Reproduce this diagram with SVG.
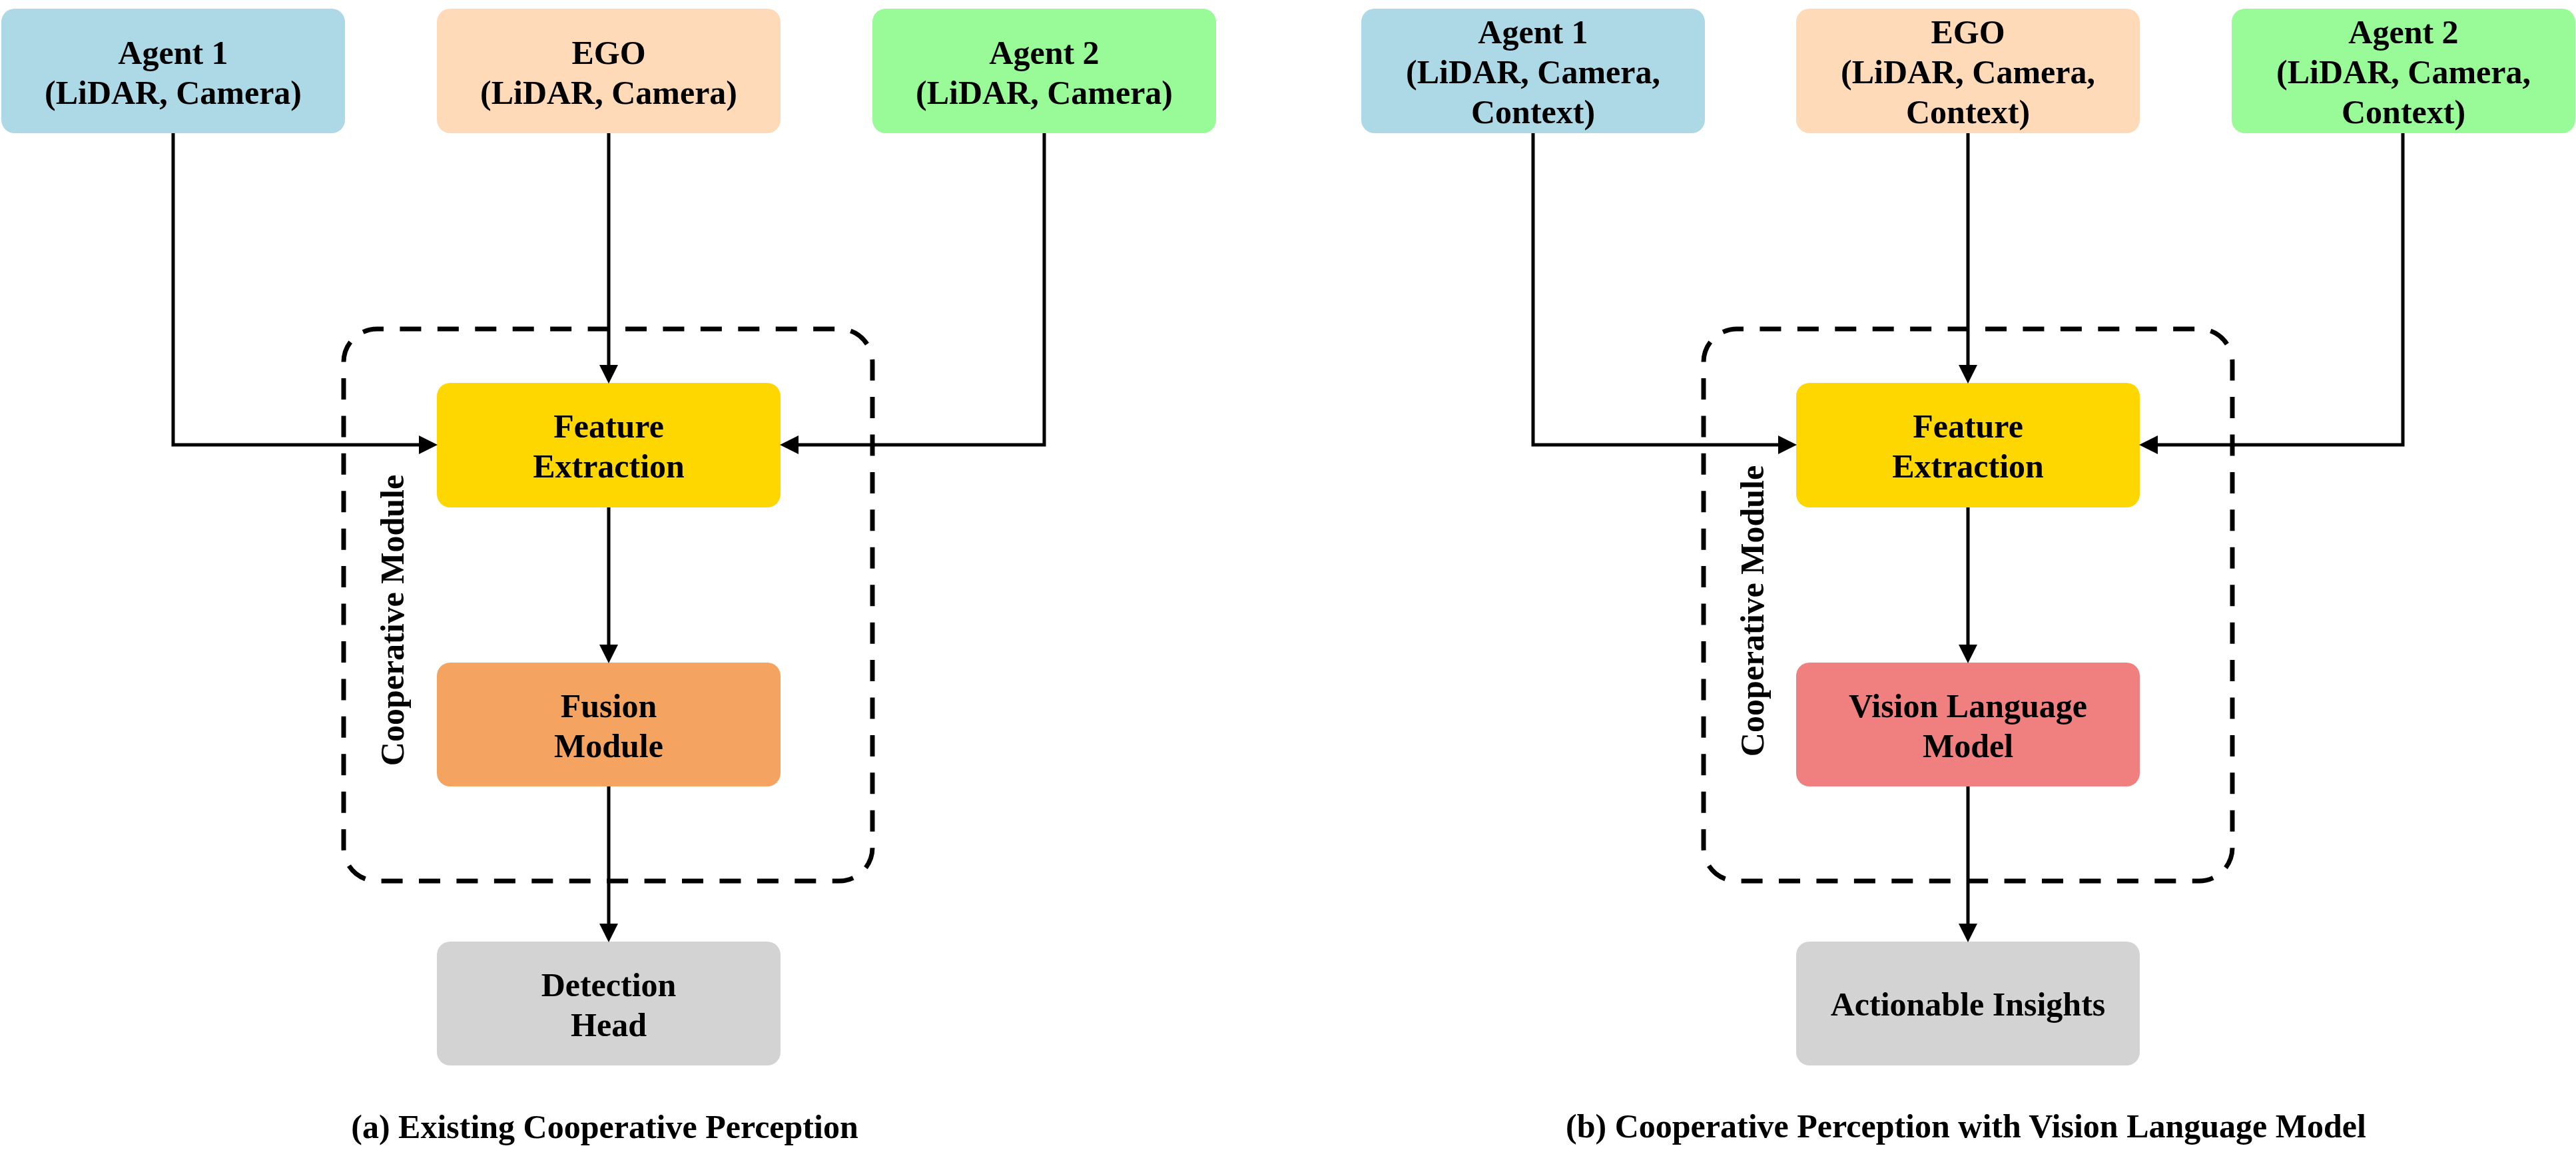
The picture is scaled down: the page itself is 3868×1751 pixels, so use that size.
<svg xmlns="http://www.w3.org/2000/svg" width="3868" height="1751" viewBox="0 0 3868 1751">
<style>
  .lbl { font-family: "Liberation Serif", "Times New Roman", serif; font-weight: bold; font-size: 50px; fill: #000; text-anchor: middle; }
  .box { stroke: none; }
  .conn { fill: none; stroke: #000; stroke-width: 5; }
  .group { fill: none; stroke: #000; stroke-width: 7; stroke-dasharray: 32 24.431; stroke-dashoffset: 22; }
</style>
<defs>
  <marker id="arrow" markerUnits="userSpaceOnUse" markerWidth="28" markerHeight="28" viewBox="0 0 27 27" refX="0" refY="13.5" orient="auto">
    <path d="M0,0 L27,13.5 L0,27 z" fill="#000"/>
  </marker>
</defs>
<rect width="3868" height="1751" fill="#fff"/>

<!-- Panel (a) -->
<g id="a-coop-module">
  <rect class="group" x="516" y="494" width="794" height="829" rx="50" ry="50"/>
  <text class="lbl" transform="translate(606,931.5) rotate(-90)" x="0" y="0">Cooperative Module</text>
</g>
<g id="a-agent1">
  <rect class="box" x="2" y="13" width="516" height="187" rx="20" fill="#ADD8E6"/>
  <text class="lbl" x="260" y="96">Agent 1</text>
  <text class="lbl" x="260" y="156">(LiDAR, Camera)</text>
</g>
<g id="a-ego">
  <rect class="box" x="656" y="13" width="516" height="187" rx="20" fill="#FFDAB9"/>
  <text class="lbl" x="914" y="96">EGO</text>
  <text class="lbl" x="914" y="156">(LiDAR, Camera)</text>
</g>
<g id="a-agent2">
  <rect class="box" x="1310" y="13" width="516" height="187" rx="20" fill="#98FB98"/>
  <text class="lbl" x="1568" y="96">Agent 2</text>
  <text class="lbl" x="1568" y="156">(LiDAR, Camera)</text>
</g>
<g id="a-feature">
  <rect class="box" x="656" y="575" width="516" height="187" rx="20" fill="#FFD700"/>
  <text class="lbl" x="914" y="657">Feature</text>
  <text class="lbl" x="914" y="717">Extraction</text>
</g>
<g id="a-fusion">
  <rect class="box" x="656" y="995" width="516" height="186" rx="20" fill="#F4A460"/>
  <text class="lbl" x="914" y="1077">Fusion</text>
  <text class="lbl" x="914" y="1137">Module</text>
</g>
<g id="a-detection">
  <rect class="box" x="656" y="1414" width="516" height="186" rx="20" fill="#D3D3D3"/>
  <text class="lbl" x="914" y="1496">Detection</text>
  <text class="lbl" x="914" y="1556">Head</text>
</g>
<text id="a-caption" class="lbl" x="908" y="1709">(a) Existing Cooperative Perception</text>

<!-- Panel (b) -->
<g id="b-coop-module">
  <rect class="group" x="2558" y="494" width="794" height="829" rx="50" ry="50"/>
  <text class="lbl" transform="translate(2648,917.5) rotate(-90)" x="0" y="0">Cooperative Module</text>
</g>
<g id="b-agent1">
  <rect class="box" x="2044" y="13" width="516" height="187" rx="20" fill="#ADD8E6"/>
  <text class="lbl" x="2302" y="65">Agent 1</text>
  <text class="lbl" x="2302" y="125">(LiDAR, Camera,</text>
  <text class="lbl" x="2302" y="185">Context)</text>
</g>
<g id="b-ego">
  <rect class="box" x="2697" y="13" width="516" height="187" rx="20" fill="#FFDAB9"/>
  <text class="lbl" x="2955" y="65">EGO</text>
  <text class="lbl" x="2955" y="125">(LiDAR, Camera,</text>
  <text class="lbl" x="2955" y="185">Context)</text>
</g>
<g id="b-agent2">
  <rect class="box" x="3351" y="13" width="516" height="187" rx="20" fill="#98FB98"/>
  <text class="lbl" x="3609" y="65">Agent 2</text>
  <text class="lbl" x="3609" y="125">(LiDAR, Camera,</text>
  <text class="lbl" x="3609" y="185">Context)</text>
</g>
<g id="b-feature">
  <rect class="box" x="2697" y="575" width="516" height="187" rx="20" fill="#FFD700"/>
  <text class="lbl" x="2955" y="657">Feature</text>
  <text class="lbl" x="2955" y="717">Extraction</text>
</g>
<g id="b-vlm">
  <rect class="box" x="2697" y="995" width="516" height="186" rx="20" fill="#F08080"/>
  <text class="lbl" x="2955" y="1077">Vision Language</text>
  <text class="lbl" x="2955" y="1137">Model</text>
</g>
<g id="b-insights">
  <rect class="box" x="2697" y="1414" width="516" height="186" rx="20" fill="#D3D3D3"/>
  <text class="lbl" x="2955" y="1525">Actionable Insights</text>
</g>
<text id="b-caption" class="lbl" x="2952" y="1708">(b) Cooperative Perception with Vision Language Model</text>

<g id="connectors">
  <polyline class="conn" points="260,200 260,668 629,668" marker-end="url(#arrow)"/>
  <line class="conn" x1="914" y1="200" x2="914" y2="548" marker-end="url(#arrow)"/>
  <polyline class="conn" points="1568,200 1568,668 1199,668" marker-end="url(#arrow)"/>
  <line class="conn" x1="914" y1="762" x2="914" y2="968" marker-end="url(#arrow)"/>
  <line class="conn" x1="914" y1="1181" x2="914" y2="1387" marker-end="url(#arrow)"/>

  <polyline class="conn" points="2302,200 2302,668 2670,668" marker-end="url(#arrow)"/>
  <line class="conn" x1="2955" y1="200" x2="2955" y2="548" marker-end="url(#arrow)"/>
  <polyline class="conn" points="3608,200 3608,668 3240,668" marker-end="url(#arrow)"/>
  <line class="conn" x1="2955" y1="762" x2="2955" y2="968" marker-end="url(#arrow)"/>
  <line class="conn" x1="2955" y1="1181" x2="2955" y2="1387" marker-end="url(#arrow)"/>
</g>
</svg>
